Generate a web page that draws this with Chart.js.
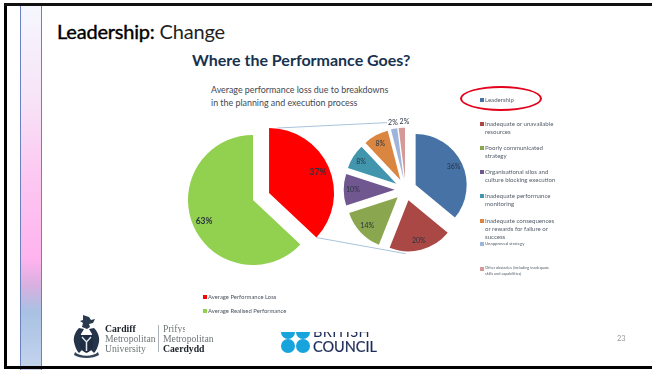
<!DOCTYPE html>
<html>
<head>
<meta charset="utf-8">
<title>Leadership: Change</title>
<script src="https://cdn.jsdelivr.net/npm/chart.js@4"></script>
<style>
  html, body { margin: 0; padding: 0; background: #fff; }
  body { width: 652px; height: 370px; position: relative; overflow: hidden; font-family: Lato, sans-serif; }
  canvas { position: absolute; left: 0; top: 0; }
  .abs { position: absolute; white-space: nowrap; }

  #band { position: absolute; left: 20px; top: 3px; width: 19.5px; height: 367px; border-left: 1px solid #6a82c0; border-right: 1px solid #6a82c0;
    background: linear-gradient(#f5f7fe 0%, #f7e4f7 26%, #fcc9f2 46%, #ffb3ee 70%, #d8b0e0 77%, #a9c1e2 84%, #c4d4ee 100%); }
  #frameLeft { position: absolute; left: 4px; top: 3px; width: 3px; height: 366px; background: #000; }
  #frameTop { position: absolute; left: 4px; top: 3px; width: 648px; height: 3px; background: #111; }
  #frameBottom { position: absolute; left: 4px; top: 366px; width: 648px; height: 3px; background: #000; }

  #slideTitle { left: 57px; top: 19px; font-size: 20px; color: #222; letter-spacing: -0.2px; }
  #slideTitle b { color: #000; font-weight: 400; -webkit-text-stroke: 0.4px #000; }
  #heading { left: 192px; top: 50px; font-size: 16px; font-weight: 700; color: #17324f; }
  #subheading { left: 211px; top: 84px; font-size: 8.9px; line-height: 12.5px; color: #3f4852; }

  ul { list-style: none; margin: 0; padding: 0; }
  #causeLegend li { position: absolute; left: 485px; font-size: 6.1px; line-height: 8px; color: #56606c; white-space: pre; }
  #causeLegend i, #splitLegend i { position: absolute; display: block; }
  #causeLegend i { left: -5px; top: 2px; width: 4px; height: 4px; }
  #causeLegend li:nth-child(1) { top: 96px; }
  #causeLegend li:nth-child(2) { top: 120px; }
  #causeLegend li:nth-child(3) { top: 144px; }
  #causeLegend li:nth-child(4) { top: 168px; }
  #causeLegend li:nth-child(5) { top: 192px; }
  #causeLegend li:nth-child(6) { top: 217px; }
  #causeLegend li:nth-child(7) { top: 240px; font-size: 4.3px; }
  #causeLegend li:nth-child(8) { top: 265px; font-size: 3.9px; line-height: 6px; }
  #splitLegend li { position: absolute; left: 208px; font-size: 5.9px; line-height: 8px; color: #4b5560; white-space: pre; }
  #splitLegend i { left: -5px; top: 2px; width: 3.5px; height: 3.5px; }
  #splitLegend li:nth-child(1) { top: 293px; }
  #splitLegend li:nth-child(2) { top: 307px; }

  #ring { position: absolute; left: 460px; top: 86px; width: 78px; height: 21px; border: 2.5px solid #e3001b; border-radius: 50%; }

  .serif { font-family: "Liberation Serif", serif; font-size: 9.7px; line-height: 10px; color: #6f7678; }
  .serif b { color: #20262c; }
  #logoRule { position: absolute; left: 158px; top: 325px; width: 1px; height: 27px; background: #aeb4b8; }
  #prifClip { position: absolute; left: 163px; top: 324px; width: 22px; height: 9px; overflow: hidden; }

  #dots { position: absolute; left: 281px; top: 332px; width: 30px; height: 22px; overflow: hidden; }
  #dots span { position: absolute; width: 14px; height: 14px; border-radius: 50%; background: #17a4dc; }
  #britishClip { position: absolute; left: 313px; top: 332px; width: 64px; height: 6px; overflow: hidden; }
  #britishClip span { position: absolute; left: 0; top: -10px; font-size: 14.5px; line-height: 20px; color: #1c2c58; letter-spacing: 0.4px; }
  #council { left: 313px; top: 336.5px; font-size: 14.5px; line-height: 20px; color: #1c2c58; -webkit-text-stroke: 0.2px #1c2c58; }
  #pageNo { left: 617px; top: 334px; font-size: 7.5px; color: #9a9a9a; }
</style>
</head>
<body>

<div id="band"></div>
<div id="frameLeft"></div>
<div id="frameTop"></div>
<div id="frameBottom"></div>

<div class="abs" id="slideTitle"><b>Leadership:</b> Change</div>
<div class="abs" id="heading">Where the Performance Goes?</div>
<div class="abs" id="subheading">Average performance loss due to breakdowns<br>in the planning and execution process</div>

<canvas id="splitPie" width="652" height="370"></canvas>
<canvas id="causePie" width="652" height="370"></canvas>

<ul id="causeLegend"></ul>
<ul id="splitLegend"></ul>
<div id="ring"></div>

<!-- university crest -->
<svg class="abs" style="left:71px;top:314px" width="31" height="45" viewBox="0 0 31 45">
  <path d="M12 1l6 2 2 3 4-1-2 4-4 1 1 3-3 2-5-2 1-4-3-2 3-1z" fill="#2a3a4e"/>
  <path d="M8 14c-3 3-6 8-5 14 1 5 3 9 5 11l3-3-2-8 1-8 3-5zM23 14c3 3 6 8 5 14-1 5-3 9-5 11l-3-3 2-8-1-8-3-5z" fill="#26344a"/>
  <path d="M9 21h13v10c0 5-4 7-6.500 8-2.500-1-6.500-3-6.500-8z" fill="#1f2d44"/>
  <path d="M11 23l4.500 5 4.500-5M15.500 28v9" stroke="#dfe5ea" stroke-width="1.500" fill="none"/>
  <path d="M4 38c5 5 18 5 23 0l1 3c-6 4-19 4-25 0z" fill="#33445c"/>
</svg>

<div class="abs serif" style="left:105px;top:324px"><b>Cardiff</b><br>Metropolitan<br>University</div>
<div id="logoRule"></div>
<div id="prifClip" class="serif"><span>Prifysgol</span></div>
<div class="abs serif" style="left:163px;top:334px">Metropolitan<br><b>Caerdydd</b></div>

<div id="dots">
  <span style="left:0;top:-7px"></span><span style="left:14.500px;top:-7px"></span>
  <span style="left:0;top:7px"></span><span style="left:14.500px;top:7px"></span>
</div>
<div id="britishClip"><span>BRITISH</span></div>
<div class="abs" id="council">COUNCIL</div>
<div class="abs" id="pageNo">23</div>

<script>
// overall split
const splitLabels = ['Average Performance Loss', 'Average Realised Performance'];
const splitValues = [37, 63];
const splitColors = ['#ff0000', '#92d050'];
const splitExplode = [17.5, 0];

// breakdown of the loss
const causeLabels = [
  'Leadership',
  'Inadequate or unavailable\nresources',
  'Poorly communicated\nstrategy',
  'Organisational silos and\nculture blocking execution',
  'Inadequate performance\nmonitoring',
  'Inadequate consequences\nor rewards for failure or\nsuccess',
  'Unapproved strategy',
  'Other obstacles (including inadequate\nskills and capabilities)'
];
const causeValues = [36, 20, 14, 10, 8, 8, 2, 2];
const causeColors = ['#4672a6', '#aa4846', '#8aa64f', '#71578f', '#4196ae', '#da8540', '#9fb4da', '#d59a98'];
const causeExplode = [11, 11, 11, 11, 11, 11, 11, 11];

function fillLegend(id, labels, colors) {
  const list = document.getElementById(id);
  labels.forEach((text, i) => {
    const li = document.createElement('li');
    const box = document.createElement('i');
    box.style.background = colors[i];
    li.appendChild(box);
    li.appendChild(document.createTextNode(text));
    list.appendChild(li);
  });
}

// pad the canvas so the pie centre lands where it should
function padAround(cx, cy, half) {
  return { left: cx - half, right: 652 - cx - half, top: cy - half, bottom: 370 - cy - half };
}

function midAngle(arc) {
  return (arc.startAngle + arc.endAngle) / 2;
}

// slide each slice out along its own middle angle, keeps the radius untouched
const explodePlugin = {
  id: 'explode',
  afterDatasetsUpdate(chart) {
    const amounts = chart.data.datasets[0].explode;
    chart.getDatasetMeta(0).data.forEach((arc, i) => {
      arc.x += Math.cos(midAngle(arc)) * amounts[i];
      arc.y += Math.sin(midAngle(arc)) * amounts[i];
    });
  }
};

// percent labels, small slices get theirs outside on a white patch
const percentPlugin = {
  id: 'percent',
  afterDatasetsDraw(chart, args, opts) {
    const ctx = chart.ctx;
    const values = chart.data.datasets[0].data;
    const spots = chart.getDatasetMeta(0).data.map((arc, i) => {
      const outside = values[i] <= 2;
      const dist = outside ? arc.outerRadius + 6 : arc.outerRadius * 0.82;
      // the last outside label moves right so the pair does not collide
      const nudge = outside && i === values.length - 1 ? 3 : 0;
      return {
        outside: outside,
        x: arc.x + Math.cos(midAngle(arc)) * dist + nudge,
        y: arc.y + Math.sin(midAngle(arc)) * dist,
        text: values[i] + '%'
      };
    });
    ctx.save();
    ctx.font = opts.font;
    ctx.textAlign = 'center';
    ctx.textBaseline = 'middle';
    ctx.fillStyle = '#fff';
    spots.filter(s => s.outside).forEach(s => ctx.fillRect(s.x - 6, s.y - 4, 12, 8));
    ctx.fillStyle = opts.color;
    spots.forEach(s => ctx.fillText(s.text, s.x, s.y));
    ctx.restore();
  }
};

function makePie(id, labels, values, colors, explode, center, radius, font, extra) {
  return new Chart(document.getElementById(id), {
    type: 'pie',
    data: {
      labels: labels,
      datasets: [{ data: values, backgroundColor: colors, borderWidth: 0, explode: explode }]
    },
    options: {
      responsive: false,
      animation: false,
      events: [],
      radius: radius,
      layout: { padding: padAround(center[0], center[1], 80) },
      plugins: {
        legend: { display: false },
        tooltip: { enabled: false },
        percent: { font: font, color: '#2a3440' }
      }
    },
    plugins: [explodePlugin, percentPlugin].concat(extra || [])
  });
}

fillLegend('causeLegend', causeLabels, causeColors);
fillLegend('splitLegend', splitLabels, splitColors);

const splitChart = makePie('splitPie', splitLabels, splitValues, splitColors, splitExplode, [253, 200], 65, 'bold 8.5px Lato');

// thin lines joining the red slice to the breakdown pie
const connectorPlugin = {
  id: 'connector',
  beforeDatasetsDraw(chart) {
    const red = splitChart.getDatasetMeta(0).data[0];
    const ctx = chart.ctx;
    const cx = chart.chartArea.left + chart.chartArea.width / 2;
    const cy = chart.chartArea.top + chart.chartArea.height / 2;
    const reach = chart.getDatasetMeta(0).data[0].outerRadius + causeExplode[0];
    ctx.save();
    ctx.strokeStyle = '#a9c3dc';
    ctx.lineWidth = 1;
    ctx.beginPath();
    ctx.moveTo(red.x + 8, red.y - red.outerRadius);
    ctx.lineTo(cx, cy - reach - 6);
    ctx.moveTo(red.x + Math.cos(red.endAngle) * red.outerRadius, red.y + Math.sin(red.endAngle) * red.outerRadius);
    ctx.lineTo(cx, cy + reach + 2);
    ctx.stroke();
    ctx.restore();
  }
};

makePie('causePie', causeLabels, causeValues, causeColors, causeExplode, [405.7, 189.7], 51, '7px Lato', [connectorPlugin]);
</script>
</body>
</html>
